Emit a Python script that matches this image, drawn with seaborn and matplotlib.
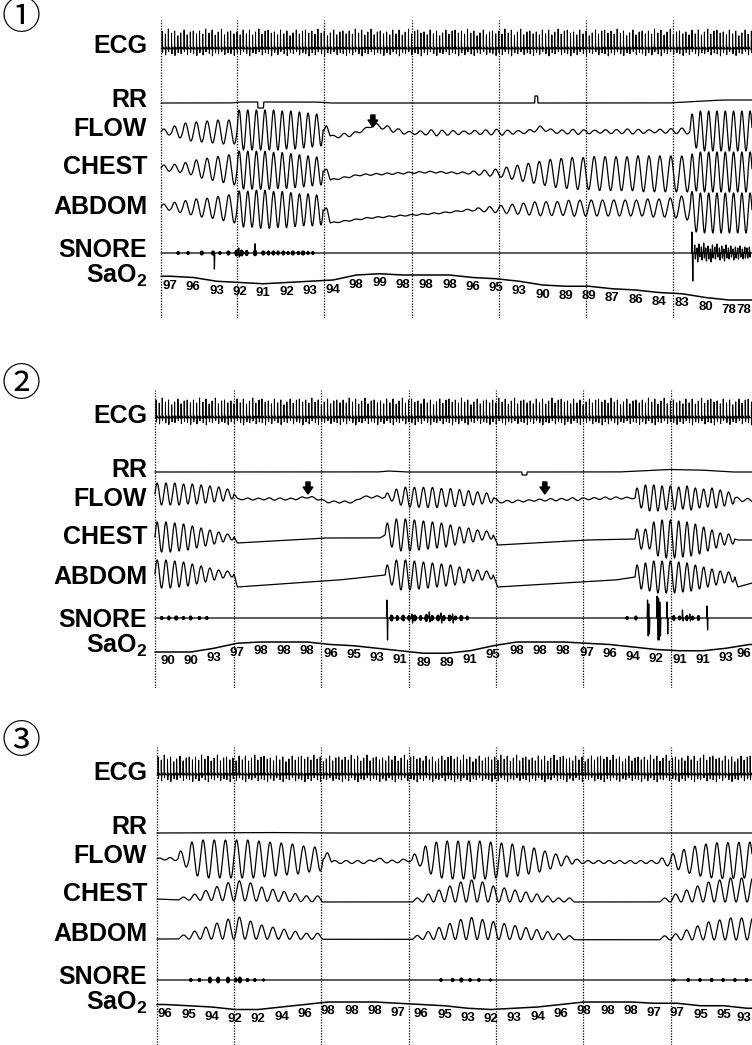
import numpy as np
import matplotlib
matplotlib.use("Agg")
import matplotlib.pyplot as plt
import seaborn as sns
from matplotlib import transforms

# ---------------------------------------------------------------- data
channels = ["ECG", "RR", "FLOW", "CHEST", "ABDOM", "SNORE", "SaO$_2$"]
panel_marks = ["\u2460", "\u2461", "\u2462"]
trace_start = [3.8, 1.7, 2.4]      # s, start of recording in each panel
epoch_first = [29.9, 28.9, 28.9]   # s, first 30-s epoch marker
x_end = 206.9

# SaO2 readings printed every 8 s
sao2_p1 = [97, 96, 93, 92, 91, 92, 93, 94, 98, 99, 98, 98, 98, 96, 95, 93, 90, 89, 89, 87, 86, 84, 83, 80, 78, 78]
sao2_p2 = [90, 90, 93, 97, 98, 98, 98, 96, 95, 93, 91, 89, 89, 91, 95, 98, 98, 98, 97, 96, 94, 92, 91, 91, 93, 96]
sao2_p3 = [96, 95, 94, 92, 92, 94, 96, 98, 98, 98, 97, 96, 95, 93, 92, 93, 94, 96, 98, 98, 98, 97, 97, 95, 95, 93]
sao2_t0 = [6.9, 6.0, 5.2]
sao2_step = 8.0

# ECG beat pattern (interval s, R amplitude, S depth)
ecg_rr = [1.08, 1.02, 1.12, 1.05, 1.10, 1.00, 1.14, 1.06]
ecg_amp = [18, 15, 20, 16, 19, 14, 17, 20, 15, 18, 19, 16]
ecg_s = [4, 6, 3, 5, 7, 4, 5, 3, 6, 4, 5, 7]

# RR channel: slow level (time s, deflection)
rr_p1_t = [3.8, 28, 31, 37.0, 37.1, 39.0, 39.1, 57, 62, 132.2, 132.3, 133.2, 133.3, 178, 190, 197, 207]
rr_p1_v = [0, 0, 1, 1, -5, -5, 1, 1, 0, 0, 7, 7, 0, 0, 2, 3, 3]
rr_p2_t = [1.7, 78, 82, 88, 127.8, 127.9, 129.5, 129.6, 161, 178, 189, 200, 207]
rr_p2_v = [0, 0, 1, 0, 0, -3, -3, 0, 0, 2.5, 2, 0, 0]
rr_p3_t = [2.4, 40, 60, 150, 207]
rr_p3_v = [0, 0.5, 0, 0, 0]

# slow baseline drift of respiratory channels (time s, deflection)
flow_base_p1 = ([3.8, 29.9, 30.5, 59.5, 61, 63, 70, 77, 84, 89, 130, 134, 140, 185.6, 207],
                [-2, -2, 0, 0, -5, -7, -4, 5, 0, -3, -2, 2, -2, -1, -1])
chest_base_p1 = ([3.8, 29.9, 59.5, 62, 72, 96, 106.5, 185.6, 187, 207],
                 [3, 1, 0, -9, -4, -1, -2, -3, -1, -1])
abdom_base_p1 = ([3.8, 29.9, 59.5, 62, 75, 100, 110, 150, 185.6, 187, 207],
                 [3, 1, 0, -13, -8, -3, 0, 2, 2, -3, -3])
flow_base_p2 = ([1.7, 28.9, 30, 50, 54, 58, 61, 70, 73, 80.8, 118, 120, 135, 160, 166.7, 201, 203, 207],
                [3, 3, -2, -2, 0, -2, -5, -5, 0, 0, -1, -5, -3, -1, -1, -1, -3, -3])
chest_base_p2 = ([1.7, 28.9, 30, 60, 79, 80.8, 118, 119.5, 150, 166.7, 201, 202, 207],
                 [0, 0, -6, -1, -1, 2, 2, -8, -3, -2, -2, -3, -3])
abdom_base_p2 = ([1.7, 28.9, 30, 65, 80.8, 118, 119.5, 160, 166.7, 201, 202, 207],
                 [2, 2, -11, -4, 1, 1, -11, -4, -1, -1, -11, -7])
flow_base_p3 = ([2.4, 59.5, 62, 75, 78, 82, 90, 146, 148, 175, 207],
                [1, 1, -2, -2, 1, -2, 0, 0, -2, -2, 0])
chest_base_p3 = ([2.4, 9.6, 59.5, 207], [3, 2, 0, 0])
abdom_base_p3 = ([2.4, 207], [1, 0])

# breath groups: (start s, end s, per-breath amplitude, shape)
flow_p1 = [(3.8, 29.9, [3, 6, 9, 10, 11, 12, 12], 's'),
           (29.9, 59.5, [20, 20, 20, 20, 20, 19, 19, 18, 17, 16], 's'),
           (59.5, 62.0, [4], 'u'),
           (62.0, 185.6, [1.5, 2, 1.5, 1, 2, 2.5, 2, 1.5, 2, 3, 2.5, 2, 1.5, 2, 2.5, 3, 2,
                          1.5, 2, 2, 1.5, 2, 2.5, 2, 1.5, 2, 2, 2.5, 2, 1.5, 2, 2.5, 3], 's'),
           (185.6, 208.4, [17, 20, 20, 20, 20, 20, 20, 20], 's')]
chest_p1 = [(3.8, 29.9, [3, 4, 6, 9, 11, 13, 15], 's'),
            (29.9, 59.5, [19, 19, 19, 19, 18, 18, 17, 16, 15, 14], 's'),
            (59.5, 62.0, [3], 'u'),
            (62.0, 106.5, [0.8] * 12, 's'),
            (106.5, 185.6, [1, 2, 3, 4, 6, 8, 10, 12, 14, 15, 16, 16, 17, 17, 17, 17, 18, 18, 18, 18, 18], 's'),
            (185.6, 208.4, [19, 20, 20, 20, 20, 20, 20, 20], 's')]
abdom_p1 = [(3.8, 29.9, [3, 5, 7, 9, 10, 12, 14], 's'),
            (29.9, 59.5, [18, 18, 19, 19, 18, 18, 17, 16, 16, 15], 's'),
            (59.5, 62.0, [4], 'u'),
            (62.0, 108.0, [0.6] * 12, 's'),
            (108.0, 185.6, [1, 2, 3, 4, 5, 6, 7, 7, 7, 8, 8, 8, 8, 8, 8, 8, 9, 9, 10, 12], 's'),
            (185.6, 208.4, [19, 20, 20, 20, 20, 20, 20, 20], 's')]

flow_p2 = [(1.7, 28.9, [11, 11, 11, 10, 10, 9, 8, 7, 5], 's'),
           (28.9, 80.8, [0.8, 1, 0.8, 1.2, 1, 0.8, 1, 1.2, 0.8, 1, 1, 0.8, 1, 1.2], 's'),
           (80.8, 118.0, [4, 8, 10, 10, 10, 10, 9, 9, 8, 7, 6, 5], 's'),
           (118.0, 166.7, [1, 1.2, 1, 0.8, 1, 1.2, 1, 1.5, 1, 1, 1.2, 1, 0.8], 's'),
           (166.7, 201.0, [10, 13, 13, 12, 12, 11, 12, 10, 9, 10, 8, 6], 's'),
           (201.0, 208.0, [1.5, 1.5], 's')]
chest_p2 = [(1.7, 28.9, [15, 15, 14, 13, 11, 9, 7, 5, 3], 's'),
            (80.8, 118.0, [12, 16, 16, 15, 14, 13, 12, 10, 8, 7, 5, 4], 's'),
            (166.7, 201.0, [10, 10, 17, 19, 19, 18, 17, 15, 12, 9, 6, 5], 's')]
abdom_p2 = [(1.7, 28.9, [14, 14, 13, 12, 10, 8, 6, 4, 3], 's'),
            (80.8, 118.0, [10, 15, 15, 14, 13, 12, 11, 10, 8, 6, 5, 4], 's'),
            (166.7, 201.0, [12, 14, 16, 16, 16, 15, 14, 12, 10, 8, 6, 5], 's')]

flow_p3 = [(2.4, 9.6, [1, 1.5], 's'),
           (9.6, 59.5, [8, 17, 19, 19, 19, 19, 19, 18, 17, 16, 15, 13, 12], 's'),
           (59.5, 62.5, [4], 'u'),
           (62.5, 90.0, [1.5] * 7, 's'),
           (90.0, 146.0, [6, 14, 18, 19, 19, 19, 19, 18, 17, 16, 14, 12, 9, 6, 4], 's'),
           (146.0, 175.0, [1.5] * 8, 's'),
           (175.0, 209.0, [4, 8, 12, 15, 17, 18, 18, 18, 18], 's')]
chest_p3 = [(9.6, 59.5, [1.5, 3, 5, 7, 9, 10, 9, 7, 6, 5, 4, 3, 3], 'u'),
            (90.0, 146.0, [2, 4, 6, 8, 10, 11, 10, 8, 7, 6, 5, 4, 3, 2, 2], 'u'),
            (175.0, 209.0, [2, 4, 6, 8, 10, 11, 12, 12, 12], 'u')]
abdom_p3 = [(9.6, 59.5, [2, 4, 6, 8, 10, 11, 9, 7, 6, 5, 4, 3, 3], 'u'),
            (90.0, 146.0, [2, 4, 6, 8, 10, 11, 10, 9, 8, 7, 6, 5, 4, 3, 2], 'u'),
            (175.0, 209.0, [2, 3, 5, 7, 9, 10, 11, 11, 11], 'u')]

# snore: bursts (centre s, duration s, amplitude) and single strokes (t, up, down)
snore_p1_bursts = [(9.7, 0.8, 1.5), (13.1, 0.8, 1.5), (17.8, 1.0, 2), (21.7, 1.0, 2), (24, 0.8, 1.5),
                   (26.9, 1.0, 2), (29.8, 1.2, 3), (31.5, 1.0, 3), (33.2, 1.0, 2.5), (36.1, 1.0, 3),
                   (38.9, 1.0, 2), (40.7, 0.8, 2), (42.4, 1.0, 2), (44, 0.8, 2), (45.8, 1.0, 2),
                   (47.5, 0.8, 1.5), (49.1, 1.0, 2), (51, 0.8, 1.5), (52.6, 1.0, 2), (54.3, 0.8, 1.5),
                   (56, 0.8, 1.5)]
snore_p1_spikes = [(21.9, 0, 17), (36.1, 9, 0), (30.5, 5, 4), (186.3, 21, 28),
                   (187.2, 8, 6), (188.0, 5, 9), (188.7, 9, 4), (189.5, 6, 7), (190.3, 10, 5),
                   (191.0, 5, 8), (191.8, 7, 6), (192.6, 4, 9), (193.3, 8, 5), (194.1, 6, 6),
                   (194.9, 9, 4), (195.7, 5, 7), (196.5, 7, 5), (197.2, 4, 8), (198.0, 8, 5),
                   (198.8, 5, 6), (199.6, 7, 4), (200.4, 4, 7), (201.2, 6, 5), (202.0, 5, 6),
                   (202.8, 7, 4), (203.6, 4, 6), (204.4, 6, 5), (205.2, 5, 5), (206.0, 6, 4)]
snore_p2_bursts = [(4, 0.8, 1.5), (6.5, 0.8, 2), (9, 1.0, 2), (11.5, 0.8, 1.5), (14, 0.8, 2), (17, 0.8, 1.5),
                   (19.5, 0.8, 1.5),
                   (83, 1.0, 3), (85, 0.8, 2.5), (87, 1.0, 3), (89, 0.8, 2.5), (91, 1.0, 3), (93, 0.8, 2.5),
                   (95, 1.0, 3.5), (97, 0.8, 2.5), (99, 1.0, 3), (101, 0.8, 2.5), (103, 1.0, 3), (105, 0.8, 2),
                   (107, 1.0, 2.5), (109, 0.8, 2),
                   (164, 0.8, 1.5), (167, 0.8, 2), (180, 0.8, 2.5), (182, 0.8, 2), (184.5, 0.8, 2.5),
                   (186.5, 0.8, 2), (188.5, 0.8, 2.5)]
snore_p2_spikes = [(81.4, 18, 22), (90.0, 4, 5), (96.0, 6, 4), (100.0, 5, 5), (104.0, 4, 5),
                   (171.0, 18, 18), (171.4, 14, 16), (174.3, 22, 22), (174.8, 20, 22), (175.2, 16, 18),
                   (177.7, 16, 16), (183.0, 8, 3), (185.5, 4, 3), (191.4, 12, 12)]
snore_p3_bursts = [(14, 0.8, 1.5), (17, 0.8, 1.5), (20.6, 1.0, 3), (23.4, 1.0, 3), (26.8, 1.0, 3), (29.5, 0.8, 2),
                   (30.9, 1.0, 3), (33.5, 0.8, 1.5), (36, 0.8, 1.5), (39, 0.8, 1),
                   (100, 0.8, 1.5), (104, 0.8, 1.5), (107, 1.0, 2), (110, 0.8, 1.5), (113, 0.8, 1.5), (117, 0.8, 1),
                   (180, 0.8, 1), (185, 0.8, 1.5), (189, 0.8, 1.5), (193, 0.8, 1.5), (197, 0.8, 1.5),
                   (201, 0.8, 1.5), (205, 0.8, 1.5)]
snore_p3_spikes = []

# arrows marking events on FLOW
arrows_p1 = [76.6]
arrows_p2 = [54.3, 135.7]
arrows_p3 = []

panels = [
    dict(sao2=sao2_p1, rr=(rr_p1_t, rr_p1_v), fb=flow_base_p1, cb=chest_base_p1, ab=abdom_base_p1,
         flow=flow_p1, chest=chest_p1, abdom=abdom_p1, sb=snore_p1_bursts, ss=snore_p1_spikes, arrows=arrows_p1),
    dict(sao2=sao2_p2, rr=(rr_p2_t, rr_p2_v), fb=flow_base_p2, cb=chest_base_p2, ab=abdom_base_p2,
         flow=flow_p2, chest=chest_p2, abdom=abdom_p2, sb=snore_p2_bursts, ss=snore_p2_spikes, arrows=arrows_p2),
    dict(sao2=sao2_p3, rr=(rr_p3_t, rr_p3_v), fb=flow_base_p3, cb=chest_base_p3, ab=abdom_base_p3,
         flow=flow_p3, chest=chest_p3, abdom=abdom_p3, sb=snore_p3_bursts, ss=snore_p3_spikes, arrows=arrows_p3),
]

# ---------------------------------------------------------------- layout (px)
W, H = 752, 1045
panel_top = [20, 390, 747]
panel_h = 298
row_ecg = [29, 28, 28]
row_rr = [83, 82, 86]
row_flow = [110, 107, 113]
row_chest = [151, 147, 155]
row_abdom = [190, 186, 193]
row_snore = [233, 228, 233]
sat_base = [265, 262, 265]
sat_scale = 1.25
label_y = [24, 78, 107, 145, 185, 228, 254]
mark_y = [18, 385, 742]
px_per_s = 602 / x_end


# ---------------------------------------------------------------- helpers
def breath_signal(t, groups):
    s = np.zeros_like(t)
    for t0, t1, amps, mode in groups:
        n = len(amps)
        per = (t1 - t0) / n
        m = (t >= t0) & (t < t1)
        ph = (t[m] - t0) / per
        k = np.minimum(ph.astype(int), n - 1)
        a = np.asarray(amps, float)[k]
        fr = ph - np.floor(ph)
        if mode == 's':
            s[m] += a * np.sin(2 * np.pi * fr)
        else:
            s[m] += a * (1 - np.cos(2 * np.pi * fr))
    return s


def snore_signal(t, bursts, spikes):
    s = np.zeros_like(t)
    for tc, w, a in bursts:
        u = (t - tc) / (w / 2)
        m = np.abs(u) < 1
        s[m] += a * np.sqrt(1 - u[m] ** 2) * np.sin(2 * np.pi * (t[m] - tc) / 0.2)
    for tc, up, dn in spikes:
        m1 = np.abs(t - tc) < 0.12
        s[m1] += up * (1 - np.abs(t[m1] - tc) / 0.12)
        m2 = np.abs(t - tc - 0.24) < 0.12
        s[m2] -= dn * (1 - np.abs(t[m2] - tc - 0.24) / 0.12)
    return s


def ecg_signal(t, t0):
    s = np.zeros_like(t)
    tb = t0 + 0.4
    i = 0
    while tb < t[-1]:
        h = ecg_amp[i % len(ecg_amp)]
        sd = ecg_s[i % len(ecg_s)]
        m = np.abs(t - tb) < 1.0
        tt = t[m] - tb
        s[m] += (h * np.exp(-(tt / 0.045) ** 2)
                 - sd * np.exp(-((tt - 0.1) / 0.04) ** 2)
                 + 2.0 * np.exp(-((tt - 0.42) / 0.1) ** 2))
        tb += ecg_rr[i % len(ecg_rr)]
        i += 1
    return s


def draw(ax, x, y, lw=0.8):
    sns.lineplot(x=x, y=y, ax=ax, color="black", linewidth=lw, estimator=None,
                 sort=False, legend=False)


# ---------------------------------------------------------------- figure
sns.set_theme(style="white")
plt.rcParams["font.family"] = ["Liberation Sans", "DejaVu Sans"]
plt.rcParams["mathtext.fontset"] = "custom"
plt.rcParams["mathtext.rm"] = "Liberation Sans:bold"
plt.rcParams["mathtext.it"] = "Liberation Sans:bold"
plt.rcParams["mathtext.bf"] = "Liberation Sans:bold"

fig = plt.figure(figsize=(W / 100, H / 100), dpi=100)
fig.patch.set_facecolor("white")

for p, d in enumerate(panels):
    ax = fig.add_axes([150 / W, 1 - (panel_top[p] + panel_h) / H, 602 / W, panel_h / H])
    t = np.arange(trace_start[p], x_end + 0.01, 0.02)

    # ECG
    draw(ax, t, row_ecg[p] - ecg_signal(t, trace_start[p]), lw=0.7)
    # RR
    draw(ax, t, row_rr[p] - np.interp(t, *d["rr"]), lw=0.9)
    # FLOW / CHEST / ABDOM
    for row, base, grp in ((row_flow[p], d["fb"], d["flow"]),
                           (row_chest[p], d["cb"], d["chest"]),
                           (row_abdom[p], d["ab"], d["abdom"])):
        sig = np.interp(t, *base) + breath_signal(t, grp)
        draw(ax, t, row - sig, lw=0.9)
    # SNORE
    draw(ax, t, row_snore[p] - snore_signal(t, d["sb"], d["ss"]), lw=0.9)

    # SaO2 trace and printed values
    vals = np.asarray(d["sao2"], float)
    ts = sao2_t0[p] + sao2_step * np.arange(len(vals))
    tl = np.concatenate([[trace_start[p]], ts, [x_end]])
    vl = np.concatenate([[vals[0]], vals, [vals[-1]]])
    yl = sat_base[p] - sat_scale * (vl - 90)
    draw(ax, tl, yl, lw=1.1)
    for tv, v in zip(ts, vals):
        ha, xt = "center", tv
        if (x_end - tv) * px_per_s < 7:      # keep the last reading inside the sheet
            ha, xt = "right", x_end - 0.2
        ax.text(xt, sat_base[p] - sat_scale * (v - 90) + 9.5, f"{int(v)}", ha=ha, va="center",
                fontsize=9.5, fontweight="bold", color="black", clip_on=False)

    # epoch markers
    lines = [trace_start[p]] + [epoch_first[p] + 30 * k for k in range(6)]
    for lx in lines:
        ax.axvline(lx, color="black", lw=0.9, ls=(0, (1, 1.2)))

    # arrows
    for at in d["arrows"]:
        ax.annotate("", xy=(at, row_flow[p] - 3), xytext=(at, row_flow[p] - 15),
                    arrowprops=dict(arrowstyle="simple,head_length=0.5,head_width=0.7,tail_width=0.3",
                                    color="black", shrinkA=0, shrinkB=0, mutation_scale=10))

    ax.set_xlim(0, x_end)
    ax.set_ylim(panel_h, 0)
    ax.set_axis_off()

    # channel labels
    trans = transforms.blended_transform_factory(fig.transFigure, ax.transData)
    for lab, ly in zip(channels, label_y):
        ax.text(147 / W, ly + 8.6, lab, transform=trans, ha="right", va="baseline",
                fontsize=18, fontweight="bold", color="black")

    # panel number
    fig.text(21 / W, 1 - mark_y[p] / H, panel_marks[p], ha="center", va="center", fontsize=28,
             fontweight="normal", family=["Noto Sans CJK JP", "DejaVu Sans"], color="black")

fig.savefig("out.png", dpi=100, facecolor="white")
